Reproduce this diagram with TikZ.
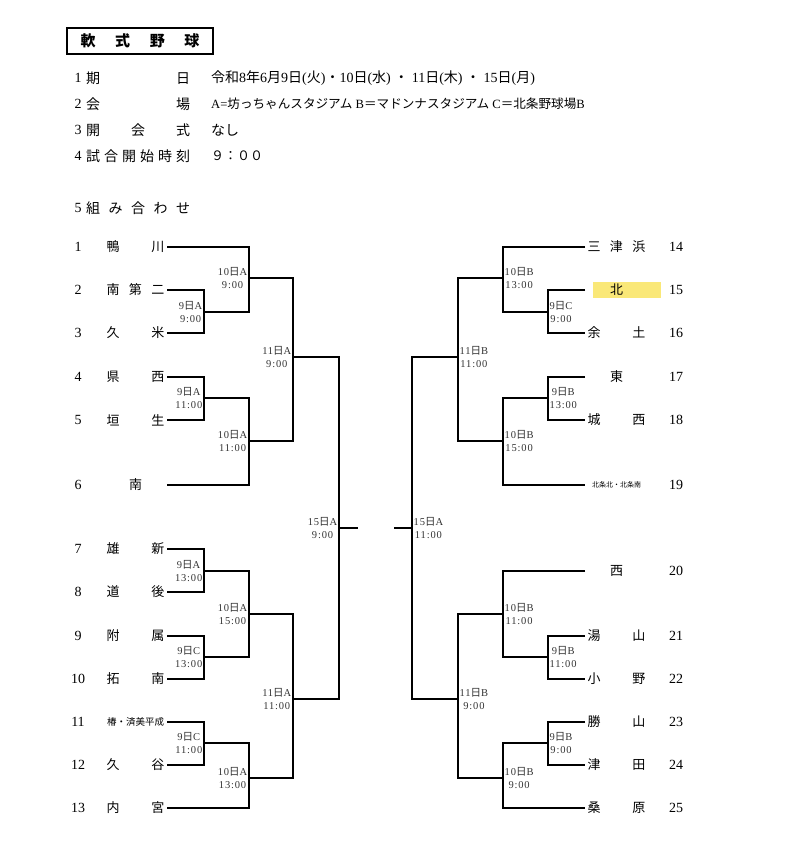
\documentclass[tikz,border=0pt]{standalone}
\usepackage{fontspec}
\setmainfont{Liberation Serif}
\newfontfamily\jp{Noto Sans CJK JP}
\newfontfamily\lblfont[LetterSpace=8]{Liberation Serif}
\definecolor{hl}{HTML}{FAE878}
\newcommand{\nichi}{{\jp 日}}

\begin{document}
\begin{tikzpicture}[x=1pt,y=-1pt,
    line/.style={line width=2pt},
    team/.style={inner xsep=2.5pt, inner ysep=1pt, outer sep=0pt, text width=58pt, align=center, font=\jp\fontsize{13}{14}\selectfont},
    small/.style={font=\jp\fontsize{9.5}{10}\selectfont},
    tiny/.style={font=\jp\fontsize{7}{8}\selectfont},
    num/.style={font=\fontsize{14}{15}\selectfont},
    lbl/.style={inner xsep=1.5pt, inner ysep=0pt, align=center, text=black!80, font=\lblfont\fontsize{10.5}{13}\selectfont},
    head/.style={inner xsep=1pt, font=\fontsize{14}{16}\selectfont},
    hlab/.style={inner xsep=2pt, text width=104pt, align=center, font=\jp\fontsize{14}{16}\selectfont}]
  \useasboundingbox (0,0) rectangle (791,841);

  % heading
  \node[draw, line width=2pt, minimum width=146pt, minimum height=26pt, text width=119pt, inner xsep=13.5pt, align=center,
        font=\jp\bfseries\fontsize{15}{16}\selectfont] (ttl) at (140,41) {軟\hfill 式\hfill 野\hfill 球};

  \node[head] (h1) at (78,78) {1}; \node[hlab, anchor=west] (h1l) at (84,78) {期\hfill 日};
  \node[head, anchor=west] (h1v) at (210,78) {{\jp 令和}8{\jp 年}6{\jp 月}9{\jp 日}({\jp 火}){\jp ・}10{\jp 日}({\jp 水}) {\jp ・} 11{\jp 日}({\jp 木}) {\jp ・} 15{\jp 日}({\jp 月})};
  \node[head] (h2) at (78,104) {2}; \node[hlab, anchor=west] (h2l) at (84,104) {会\hfill 場};
  \node[head, anchor=west, font=\fontsize{12.6}{14}\selectfont] (h2v) at (210,104) {A={\jp 坊っちゃんスタジアム} B{\jp ＝マドンナスタジアム} C{\jp ＝北条野球場}B};
  \node[head] (h3) at (78,130) {3}; \node[hlab, anchor=west] (h3l) at (84,130) {開\hfill 会\hfill 式};
  \node[head, anchor=west] (h3v) at (210,130) {{\jp なし}};
  \node[head] (h4) at (78,156) {4}; \node[hlab, anchor=west] (h4l) at (84,156) {試\hfill 合\hfill 開\hfill 始\hfill 時\hfill 刻};
  \node[head, anchor=west] (h4v) at (210,156) {{\jp\fontsize{13}{15}\selectfont ９：００}};
  \node[head] (h5) at (78,208) {5}; \node[hlab, anchor=west] (h5l) at (84,208) {組\hfill み\hfill 合\hfill わ\hfill せ};

  % left teams
  \node[num] (k1) at (78,247) {1};   \node[team, anchor=east] (n1) at (167,247) {鴨\hfill 川};
  \node[num] (k2) at (78,290) {2};   \node[team, anchor=east] (n2) at (167,290) {南\hfill 第\hfill 二};
  \node[num] (k3) at (78,333) {3};   \node[team, anchor=east] (n3) at (167,333) {久\hfill 米};
  \node[num] (k4) at (78,377) {4};   \node[team, anchor=east] (n4) at (167,377) {県\hfill 西};
  \node[num] (k5) at (78,420) {5};   \node[team, anchor=east] (n5) at (167,420) {垣\hfill 生};
  \node[num] (k6) at (78,485) {6};   \node[team, anchor=east] (n6) at (167,485) {南};
  \node[num] (k7) at (78,549) {7};   \node[team, anchor=east] (n7) at (167,549) {雄\hfill 新};
  \node[num] (k8) at (78,592) {8};   \node[team, anchor=east] (n8) at (167,592) {道\hfill 後};
  \node[num] (k9) at (78,636) {9};   \node[team, anchor=east] (n9) at (167,636) {附\hfill 属};
  \node[num] (k10) at (78,679) {10}; \node[team, anchor=east] (n10) at (167,679) {拓\hfill 南};
  \node[num] (k11) at (78,722) {11}; \node[team, small, anchor=east] (n11) at (167,722) {椿・済美平成};
  \node[num] (k12) at (78,765) {12}; \node[team, anchor=east] (n12) at (167,765) {久\hfill 谷};
  \node[num] (k13) at (78,808) {13}; \node[team, anchor=east] (n13) at (167,808) {内\hfill 宮};

  % right teams
  \fill[hl] (593,282) rectangle (661,298);
  \node[team, anchor=west] (m14) at (585,247) {三\hfill 津\hfill 浜}; \node[num] (k14) at (676,247) {14};
  \node[team, anchor=west] (m15) at (585,290) {北};                   \node[num] (k15) at (676,290) {15};
  \node[team, anchor=west] (m16) at (585,333) {余\hfill 土};          \node[num] (k16) at (676,333) {16};
  \node[team, anchor=west] (m17) at (585,377) {東};                   \node[num] (k17) at (676,377) {17};
  \node[team, anchor=west] (m18) at (585,420) {城\hfill 西};          \node[num] (k18) at (676,420) {18};
  \node[team, tiny, anchor=west] (m19) at (585,485) {北条北・北条南}; \node[num] (k19) at (676,485) {19};
  \node[team, anchor=west] (m20) at (585,571) {西};                   \node[num] (k20) at (676,571) {20};
  \node[team, anchor=west] (m21) at (585,636) {湯\hfill 山};          \node[num] (k21) at (676,636) {21};
  \node[team, anchor=west] (m22) at (585,679) {小\hfill 野};          \node[num] (k22) at (676,679) {22};
  \node[team, anchor=west] (m23) at (585,722) {勝\hfill 山};          \node[num] (k23) at (676,722) {23};
  \node[team, anchor=west] (m24) at (585,765) {津\hfill 田};          \node[num] (k24) at (676,765) {24};
  \node[team, anchor=west] (m25) at (585,808) {桑\hfill 原};          \node[num] (k25) at (676,808) {25};

  % games, left half
  \coordinate (a1) at (204,312);  \coordinate (a2) at (249,278);
  \coordinate (a3) at (204,398);  \coordinate (a4) at (249,441);
  \coordinate (a5) at (293,357);
  \coordinate (a6) at (204,571);  \coordinate (a7) at (204,657);
  \coordinate (a8) at (249,614);  \coordinate (a9) at (204,743);
  \coordinate (a10) at (249,778); \coordinate (a11) at (293,699);
  \coordinate (fl) at (339,528);  \coordinate (fle) at (358,528);

  % games, right half
  \coordinate (b1) at (548,312);  \coordinate (b2) at (503,278);
  \coordinate (b3) at (548,398);  \coordinate (b4) at (503,441);
  \coordinate (b5) at (458,357);
  \coordinate (b6) at (548,657);  \coordinate (b7) at (503,614);
  \coordinate (b8) at (548,743);  \coordinate (b9) at (503,778);
  \coordinate (b10) at (458,699);
  \coordinate (fr) at (412,528);  \coordinate (fre) at (394,528);

  \draw[line] (n2.east) -| (a1) |- (n3.east);
  \draw[line] (n1.east) -| (a2) |- (a1);
  \draw[line] (n4.east) -| (a3) |- (n5.east);
  \draw[line] (a3) -| (a4) |- (n6.east);
  \draw[line] (a2) -| (a5) |- (a4);
  \draw[line] (n7.east) -| (a6) |- (n8.east);
  \draw[line] (n9.east) -| (a7) |- (n10.east);
  \draw[line] (a6) -| (a8) |- (a7);
  \draw[line] (n11.east) -| (a9) |- (n12.east);
  \draw[line] (a9) -| (a10) |- (n13.east);
  \draw[line] (a8) -| (a11) |- (a10);
  \draw[line] (a5) -| (fl) |- (a11);
  \draw[line] (fl) -- (fle);

  \draw[line] (m15.west) -| (b1) |- (m16.west);
  \draw[line] (m14.west) -| (b2) |- (b1);
  \draw[line] (m17.west) -| (b3) |- (m18.west);
  \draw[line] (b3) -| (b4) |- (m19.west);
  \draw[line] (b2) -| (b5) |- (b4);
  \draw[line] (m21.west) -| (b6) |- (m22.west);
  \draw[line] (m20.west) -| (b7) |- (b6);
  \draw[line] (m23.west) -| (b8) |- (m24.west);
  \draw[line] (b8) -| (b9) |- (m25.west);
  \draw[line] (b7) -| (b10) |- (b9);
  \draw[line] (b5) -| (fr) |- (b10);
  \draw[line] (fre) -- (fr);

  % dates and times
  \node[lbl, anchor=east] (la1) at (a1) {9\nichi A\\9:00};
  \node[lbl, anchor=east] (la2) at (a2) {10\nichi A\\9:00};
  \node[lbl, anchor=east] (la3) at (a3) {9\nichi A\\11:00};
  \node[lbl, anchor=east] (la4) at (a4) {10\nichi A\\11:00};
  \node[lbl, anchor=east] (la5) at (a5) {11\nichi A\\9:00};
  \node[lbl, anchor=east] (la6) at (a6) {9\nichi A\\13:00};
  \node[lbl, anchor=east] (la7) at (a7) {9\nichi C\\13:00};
  \node[lbl, anchor=east] (la8) at (a8) {10\nichi A\\15:00};
  \node[lbl, anchor=east] (la9) at (a9) {9\nichi C\\11:00};
  \node[lbl, anchor=east] (la10) at (a10) {10\nichi A\\13:00};
  \node[lbl, anchor=east] (la11) at (a11) {11\nichi A\\11:00};
  \node[lbl, anchor=east] (lfl) at (fl) {15\nichi A\\9:00};

  \node[lbl, anchor=west] (lb1) at (b1) {9\nichi C\\9:00};
  \node[lbl, anchor=west] (lb2) at (b2) {10\nichi B\\13:00};
  \node[lbl, anchor=west] (lb3) at (b3) {9\nichi B\\13:00};
  \node[lbl, anchor=west] (lb4) at (b4) {10\nichi B\\15:00};
  \node[lbl, anchor=west] (lb5) at (b5) {11\nichi B\\11:00};
  \node[lbl, anchor=west] (lb6) at (b6) {9\nichi B\\11:00};
  \node[lbl, anchor=west] (lb7) at (b7) {10\nichi B\\11:00};
  \node[lbl, anchor=west] (lb8) at (b8) {9\nichi B\\9:00};
  \node[lbl, anchor=west] (lb9) at (b9) {10\nichi B\\9:00};
  \node[lbl, anchor=west] (lb10) at (b10) {11\nichi B\\9:00};
  \node[lbl, anchor=west] (lfr) at (fr) {15\nichi A\\11:00};
\end{tikzpicture}
\end{document}
